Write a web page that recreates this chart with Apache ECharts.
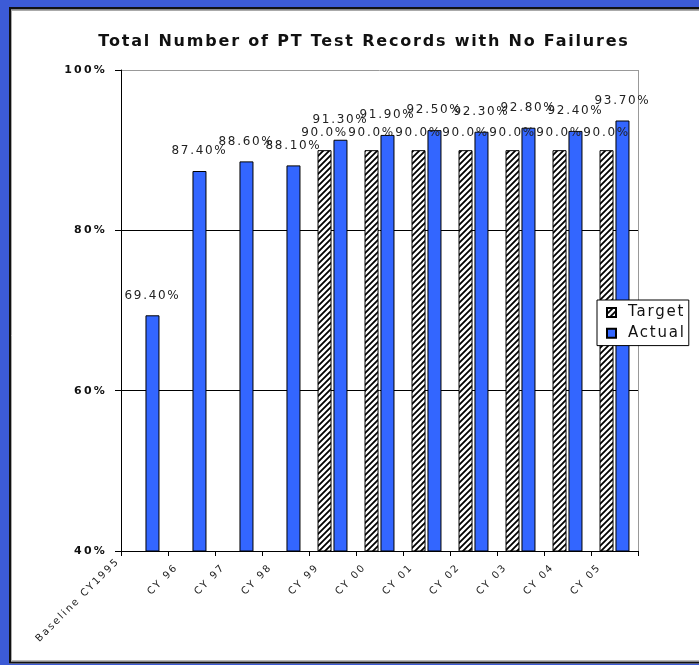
<!DOCTYPE html>
<html>
<head>
<meta charset="utf-8">
<script src="https://cdn.jsdelivr.net/npm/echarts@6/dist/echarts.min.js"></script>
<style>
  html, body { margin: 0; padding: 0; background: #fff; }
  #chart { width: 699px; height: 665px; }
</style>
</head>
<body>
<div id="chart"></div>
<script>
// data
const categories = ['Baseline CY1995', 'CY 96', 'CY 97', 'CY 98', 'CY 99', 'CY 00',
  'CY 01', 'CY 02', 'CY 03', 'CY 04', 'CY 05'];
const targetValues = [null, null, null, null, 90.0, 90.0, 90.0, 90.0, 90.0, 90.0, 90.0];
const actualValues = [69.4, 87.4, 88.6, 88.1, 91.3, 91.9, 92.5, 92.3, 92.8, 92.4, 93.7];
const yTicks = [40, 60, 80, 100];

// the original text is rendered wide; widen it with letter spacing per font size
const spacingBySize = { '16': 1.8, '15': 1.8, '12': 1.7, '11': 2.2, '10': 2 };
function spacingFor(font) {
  const m = /(\d+)px/.exec(font || '');
  return m && spacingBySize[m[1]] ? spacingBySize[m[1]] + 'px' : '0px';
}
['fillText', 'strokeText', 'measureText'].forEach(name => {
  const orig = CanvasRenderingContext2D.prototype[name];
  CanvasRenderingContext2D.prototype[name] = function () {
    this.letterSpacing = spacingFor(this.font);
    return orig.apply(this, arguments);
  };
});

// diagonal hatch for the target bars
function hatch() {
  const c = document.createElement('canvas');
  c.width = 6; c.height = 6;
  const g = c.getContext('2d');
  g.fillStyle = '#fff';
  g.fillRect(0, 0, 6, 6);
  g.strokeStyle = '#000';
  g.lineWidth = 1.8;
  g.beginPath();
  g.moveTo(0, 6); g.lineTo(6, 0);
  g.moveTo(-1, 1); g.lineTo(1, -1);
  g.moveTo(5, 7); g.lineTo(7, 5);
  g.stroke();
  return c;
}

const font = 'DejaVu Sans';
const blue = '#3366ff';
const frameBlue = '#3c5bd6';

const chart = echarts.init(document.getElementById('chart'));
chart.setOption({
  animation: false,
  backgroundColor: '#fff',
  title: {
    text: 'Total Number of PT Test Records with No Failures',
    left: 359,
    top: 28,
    textAlign: 'center',
    textStyle: { fontFamily: font, fontSize: 16, fontWeight: 'bold', color: '#111' }
  },
  legend: {
    orient: 'vertical',
    left: 597,
    top: 300,
    padding: [4, 3, 4, 9],
    itemWidth: 9,
    itemHeight: 9,
    itemGap: 4,
    icon: 'rect',
    backgroundColor: '#fff',
    borderColor: '#000',
    borderWidth: 1,
    textStyle: { fontFamily: font, fontSize: 15, color: '#111', padding: [0, 0, 0, 7] },
    data: ['Target', 'Actual']
  },
  grid: { left: 121, right: 61, top: 70, bottom: 114 },
  xAxis: {
    type: 'category',
    data: categories,
    axisLine: { lineStyle: { color: '#000', width: 1 } },
    axisTick: { show: true, length: 5, interval: 0, lineStyle: { color: '#000' } },
    axisLabel: {
      interval: 0,
      rotate: 45,
      margin: 0,
      fontFamily: font,
      fontSize: 10,
      color: '#222',
      formatter: (v, i) => (i === 0 ? '{b|' + v + '}' : '{c|' + v + '}'),
      rich: {
        b: { fontFamily: font, fontSize: 10, color: '#222', padding: [0, 25, 25, 0] },
        c: { fontFamily: font, fontSize: 10, color: '#222', padding: [0, 21, 0, 0] }
      }
    }
  },
  yAxis: {
    type: 'value',
    min: yTicks[0],
    max: yTicks[yTicks.length - 1],
    interval: 20,
    axisLine: { show: true, lineStyle: { color: '#000', width: 1 } },
    axisTick: { show: true, length: 6, lineStyle: { color: '#000' } },
    axisLabel: {
      margin: 14,
      fontFamily: font,
      fontSize: 11,
      fontWeight: 'bold',
      color: '#111',
      formatter: v => v + '%'
    },
    splitLine: { show: true, lineStyle: { color: ['#000', '#000', '#000', '#999'], width: 1 } }
  },
  series: [
    {
      name: 'Target',
      type: 'bar',
      data: targetValues,
      barWidth: 14,
      barGap: '14%',
      itemStyle: { color: { image: hatch(), repeat: 'repeat' }, borderColor: '#000', borderWidth: 1 },
      label: {
        show: true,
        position: 'top',
        distance: 10,
        fontFamily: font,
        fontSize: 12,
        color: '#222',
        formatter: p => p.value.toFixed(1) + '%'
      }
    },
    {
      name: 'Actual',
      type: 'bar',
      data: actualValues,
      barWidth: 14,
      itemStyle: { color: blue, borderColor: '#000', borderWidth: 1 },
      label: {
        show: true,
        position: 'top',
        distance: 13,
        fontFamily: font,
        fontSize: 12,
        color: '#222',
        formatter: p => p.value.toFixed(2) + '%'
      }
    }
  ],
  graphic: [
    // right border of the plot area
    { type: 'line', z: 0, shape: { x1: 638.5, y1: 70, x2: 638.5, y2: 551 }, style: { stroke: '#999', lineWidth: 1 } },
    // window frame
    { type: 'rect', shape: { x: 0, y: 0, width: 9, height: 665 }, style: { fill: frameBlue } },
    { type: 'rect', shape: { x: 0, y: 0, width: 699, height: 7 }, style: { fill: frameBlue } },
    { type: 'rect', shape: { x: 0, y: 663.5, width: 699, height: 2 }, style: { fill: frameBlue } },
    { type: 'rect', shape: { x: 9, y: 7, width: 2, height: 656 }, style: { fill: '#111' } },
    { type: 'rect', shape: { x: 9, y: 7, width: 690, height: 2.5 }, style: { fill: '#111' } },
    { type: 'rect', shape: { x: 9, y: 661.5, width: 690, height: 2 }, style: { fill: '#111' } },
    { type: 'line', shape: { x1: 11.5, y1: 10, x2: 11.5, y2: 661 }, style: { stroke: '#aaa', lineWidth: 1 } },
    { type: 'line', shape: { x1: 11, y1: 10.5, x2: 699, y2: 10.5 }, style: { stroke: '#aaa', lineWidth: 1 } },
    { type: 'line', shape: { x1: 11, y1: 660.5, x2: 699, y2: 660.5 }, style: { stroke: '#bbb', lineWidth: 1 } }
  ]
});
</script>
</body>
</html>
